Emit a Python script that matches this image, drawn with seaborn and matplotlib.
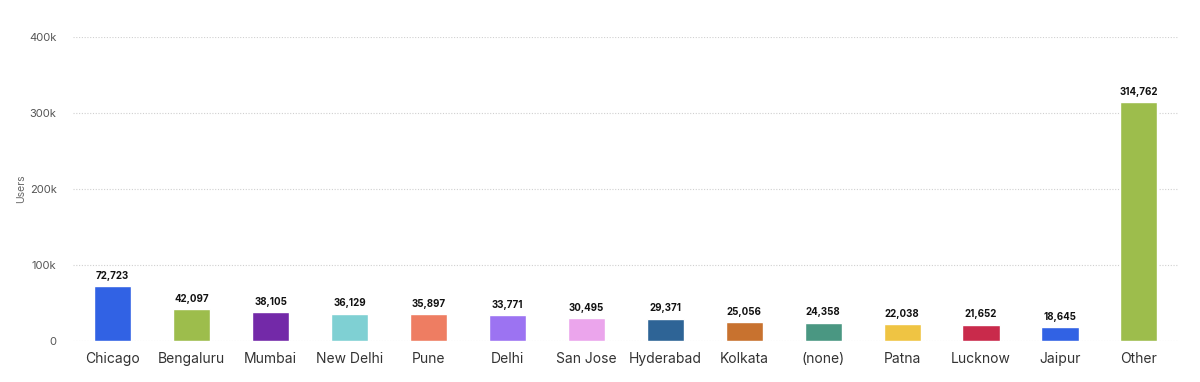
import pandas as pd
import seaborn as sns
import matplotlib.pyplot as plt
from matplotlib.ticker import FuncFormatter

# datos
cities = ["Chicago", "Bengaluru", "Mumbai", "New Delhi", "Pune", "Delhi", "San Jose",
          "Hyderabad", "Kolkata", "(none)", "Patna", "Lucknow", "Jaipur", "Other"]
users = [72723, 42097, 38105, 36129, 35897, 33771, 30495,
         29371, 25056, 24358, 22038, 21652, 18645, 314762]
colors = ["#3162e4", "#9dbd4c", "#7329a8", "#7fd0d3", "#ee7d62", "#9c73f2", "#eba5ec",
          "#2e6496", "#c8722f", "#4a9782", "#efc443", "#c92a4b", "#3162e4", "#9dbd4c"]

df = pd.DataFrame({"city": cities, "users": users})

sns.set_style("white")
plt.rcParams['font.family'] = ['Inter', 'DejaVu Sans']

fig = plt.figure(figsize=(12, 3.82), dpi=100)
ax = fig.add_axes([0.061, 0.107, 0.921, 0.796])

sns.barplot(data=df, x="city", y="users", hue="city", palette=colors,
            width=0.47, saturation=1, legend=False, ax=ax, zorder=3)

# etiquetas de valores
for bar, v in zip(ax.patches, users):
    ax.text(bar.get_x() + bar.get_width() / 2, v + 7000, f"{v:,}",
            ha="center", va="bottom", fontsize=7, fontweight="bold", color="#111111")

ax.set_ylim(0, 400000)
ax.set_xlim(-0.5, 13.5)
ax.set_yticks([0, 100000, 200000, 300000, 400000])
ax.yaxis.set_major_formatter(FuncFormatter(lambda y, p: "0" if y == 0 else f"{int(y/1000)}k"))
ax.grid(axis="y", linestyle=(0, (1, 1.5)), color="#d0d0d0", linewidth=0.8, zorder=0)

for s in ax.spines.values():
    s.set_visible(False)

ax.tick_params(axis="y", length=0, labelsize=8, labelcolor="#555555", pad=12)
ax.tick_params(axis="x", length=0, labelsize=10, labelcolor="#333333", pad=8)
ax.set_xlabel("")
ax.set_ylabel("Users", fontsize=7.5, color="#666666", labelpad=2)

plt.savefig("out.png", dpi=100)
